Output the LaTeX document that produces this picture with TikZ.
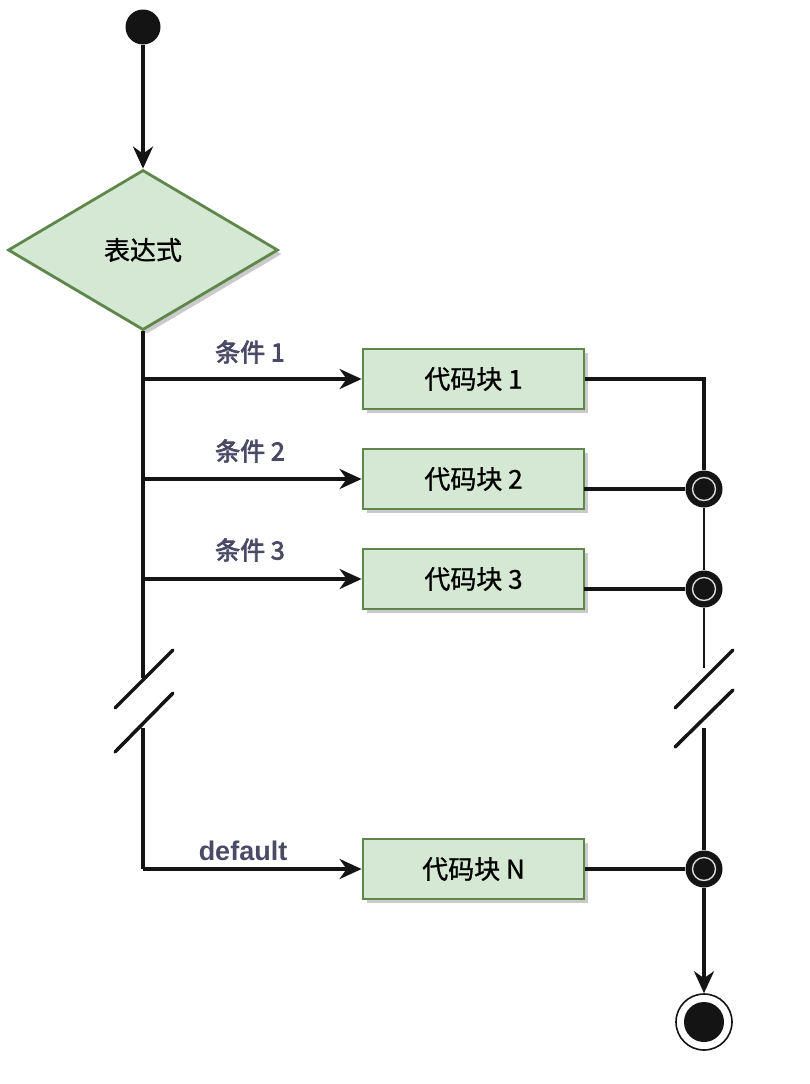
\documentclass[tikz,border=0pt]{standalone}
\usepackage{fontspec}
\setsansfont{Liberation Sans}
\newfontfamily\cjk[FakeBold=1]{Noto Sans CJK SC}
\newfontfamily\cjkbold[FakeBold=3]{Noto Sans CJK SC}
\usetikzlibrary{shapes.geometric,arrows.meta,shadows}
\definecolor{gfill}{HTML}{D5E8D4}
\definecolor{gline}{HTML}{5F874B}
\definecolor{lbl}{HTML}{4A4A66}
\definecolor{ink}{HTML}{141414}
\tikzset{
  shad/.style={drop shadow={shadow xshift=4pt,shadow yshift=-4pt,fill=black!35,opacity=0.6}},
  decision/.style={diamond,draw=gline,fill=gfill,line width=2.8pt,minimum width=270pt,minimum height=160pt,inner sep=0pt,shad,font=\cjk\fontsize{26}{30}\selectfont},
  codebox/.style={rectangle,draw=gline,fill=gfill,line width=2.8pt,minimum width=221pt,minimum height=60pt,inner sep=0pt,shad,font=\cjk\fontsize{26}{30}\selectfont},
  condlbl/.style={inner sep=0pt,text=lbl,font=\cjkbold\fontsize{25}{28}\selectfont},
  deflbl/.style={inner sep=0pt,text=lbl,font=\sffamily\bfseries\fontsize{27}{30}\selectfont},
  startdot/.style={circle,fill=ink,draw=none,minimum size=35pt,inner sep=0pt},
  junction/.style={circle,fill=ink,draw=none,minimum size=37pt,inner sep=0pt,
     path picture={\draw[white!85!black,line width=1.4pt] (path picture bounding box.center) circle (11.5pt);}},
  enddot/.style={circle,draw=ink,fill=white,line width=1.6pt,minimum size=56pt,inner sep=0pt,
     path picture={\fill[ink] (path picture bounding box.center) circle (20pt);}},
  flow/.style={draw=ink,line width=3.5pt,-{Stealth[length=22pt,width=20pt,inset=7pt]}},
  wire/.style={draw=ink,line width=3.5pt},
  thinwire/.style={draw=ink,line width=2.6pt},
  slash/.style={draw=ink,line width=3.5pt,line cap=round},
}
\begin{document}
\begin{tikzpicture}[x=1pt,y=-1pt]
\useasboundingbox (0,0) rectangle (810,1084);

% nodes
\node[startdot] (start) at (143,27) {};
\node[decision] (expr) at (143,250) {表达式};
\node[codebox] (b1) at (473.5,379) {代码块 1};
\node[codebox] (b2) at (473.5,479) {代码块 2};
\node[codebox] (b3) at (473.5,579) {代码块 3};
\node[codebox] (bN) at (473.5,869) {代码块 N};
\node[junction] (j2) at (704,489) {};
\node[junction] (j3) at (704,589) {};
\node[junction] (jN) at (704,869) {};
\node[enddot] (stop) at (704,1022) {};

% labels
\node[condlbl] (l1) at (250,352) {条件 1};
\node[condlbl] (l2) at (250,451) {条件 2};
\node[condlbl] (l3) at (250,550) {条件 3};
\node[deflbl] (ld) at (243,851) {default};

% coordinates
\coordinate (t1) at (143,379);
\coordinate (t2) at (143,479);
\coordinate (t3) at (143,579);
\coordinate (tbrk1) at (143,678);
\coordinate (tbrk2) at (143,728);
\coordinate (tN) at (143,869);
\coordinate (r1) at (704,379);
\coordinate (b2o) at (584,489);
\coordinate (b3o) at (584,589);
\coordinate (rbrk1) at (704,668);
\coordinate (rbrk2) at (704,728);
\coordinate (ls1a) at (115,708); \coordinate (ls1b) at (173,650);
\coordinate (ls2a) at (115,752); \coordinate (ls2b) at (173,693);
\coordinate (rs1a) at (675,708); \coordinate (rs1b) at (733,650);
\coordinate (rs2a) at (675,747); \coordinate (rs2b) at (733,690);

% connectors
\draw[flow] (start) -- (expr.north);
\draw[wire] (expr.south) -- (tbrk1);
\draw[wire] (tbrk2) -- (tN);
\draw[flow] (tN) -- (bN.west);
\draw[flow] (t1) -- (b1.west);
\draw[flow] (t2) -- (b2.west);
\draw[flow] (t3) -- (b3.west);

\draw[wire] (b1.east) -- (r1) -- (j2.north);
\draw[wire] (b2o) -- (j2.west);
\draw[wire] (b3o) -- (j3.west);
\draw[thinwire] (j2.south) -- (j3.north);
\draw[thinwire] (j3.south) -- (rbrk1);
\draw[wire] (rbrk2) -- (jN.north);
\draw[wire] (bN.east) -- (jN.west);
\draw[flow] (jN.south) -- (stop.north);

% break marks
\draw[slash] (ls1a) -- (ls1b);
\draw[slash] (ls2a) -- (ls2b);
\draw[slash] (rs1a) -- (rs1b);
\draw[slash] (rs2a) -- (rs2b);
\end{tikzpicture}
\end{document}
